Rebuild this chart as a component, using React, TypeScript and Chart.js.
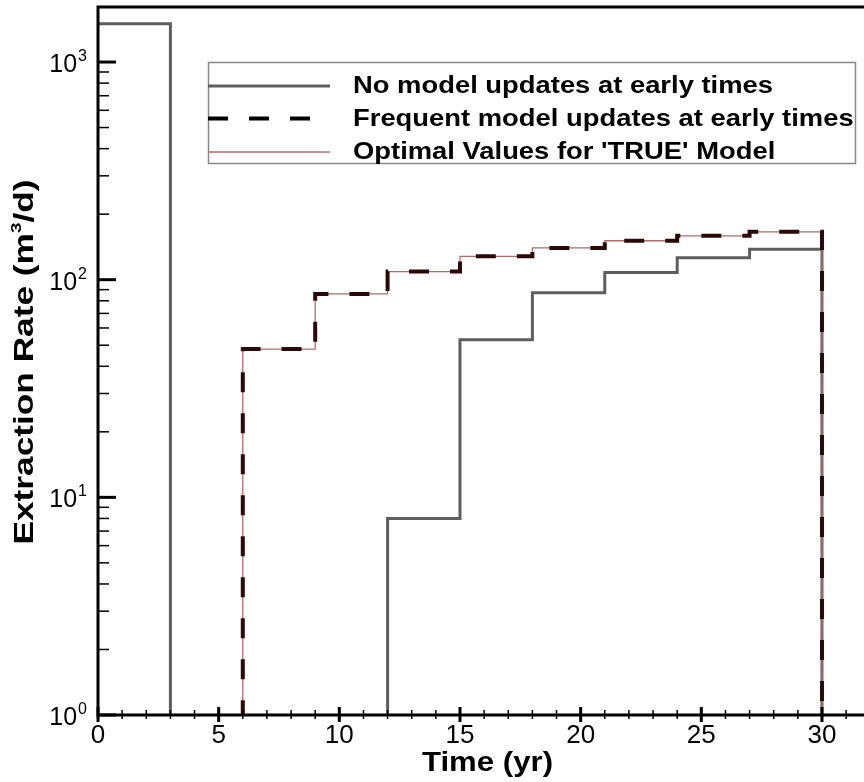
import React, { useEffect, useRef } from "react";
import { Chart, registerables } from "chart.js";

Chart.register(...registerables);

// Rates below the axis floor stand for "no extraction" and are clipped away.
const OFF = 0.5;

// No model updates at early times (step starts, yr / rate, m3/d)
const noUpdateTimes = [0, 3, 12, 15, 18, 21, 24, 27, 30];
const noUpdateRates = [1500, OFF, 8, 53, 87, 108, 126, 138, OFF];

// Frequent model updates at early times
const frequentTimes = [0, 6, 9, 12, 15, 18, 21, 24, 27, 30];
const frequentRates = [OFF, 48, 86, 109, 128, 140, 151, 159, 166, OFF];

// Optimal values for the 'TRUE' model
const optimalTimes = [0, 6, 9, 12, 15, 18, 21, 24, 27, 30];
const optimalRates = [OFF, 48, 86, 109, 128, 140, 151, 159, 166, OFF];

const xMajorTicks = [0, 5, 10, 15, 20, 25, 30];
const xMinorStep = 1;
const yDecadeExponents = [0, 1, 2, 3];

const legendLabels = [
  "No model updates at early times",
  "Frequent model updates at early times",
  "Optimal Values for 'TRUE' Model",
];

const X_MIN = 0;
const X_MAX = 31.7;
const Y_MIN = 1;
const Y_MAX = 1790;

const GRAY = "#5e5e5e";
const DASH = "#2c0909";
const RED = "#b56a6a";

const REG = '"Liberation Sans", Arial, sans-serif';

type Run = { text: string; font: string; dy?: number };

function runsWidth(ctx: CanvasRenderingContext2D, runs: Run[]) {
  let w = 0;
  for (const r of runs) {
    ctx.font = r.font;
    w += ctx.measureText(r.text).width;
  }
  return w;
}

function drawRuns(ctx: CanvasRenderingContext2D, runs: Run[], x: number, y: number) {
  let cx = x;
  for (const r of runs) {
    ctx.font = r.font;
    ctx.fillText(r.text, cx, y + (r.dy || 0));
    cx += ctx.measureText(r.text).width;
  }
}

const framePlugin = {
  id: "frameAndLabels",
  afterDatasetsDraw(chart: any) {
    const ctx: CanvasRenderingContext2D = chart.ctx;
    const area = chart.chartArea;
    const xs = chart.scales.x;
    const ys = chart.scales.y;
    ctx.save();
    ctx.fillStyle = "#000";
    ctx.strokeStyle = "#000";
    ctx.lineCap = "butt";

    // frame: top, left, bottom
    ctx.lineWidth = 3;
    ctx.beginPath();
    ctx.moveTo(area.left, area.top);
    ctx.lineTo(chart.width, area.top);
    ctx.moveTo(area.left, area.top - 1.5);
    ctx.lineTo(area.left, area.bottom + 1.5);
    ctx.moveTo(area.left - 1.5, area.bottom);
    ctx.lineTo(chart.width, area.bottom);
    ctx.stroke();

    // x ticks (crossing the axis)
    for (let t = X_MIN; t <= X_MAX; t += xMinorStep) {
      const px = xs.getPixelForValue(t);
      const major = xMajorTicks.includes(t);
      ctx.lineWidth = major ? 3 : 1.5;
      ctx.beginPath();
      if (major) {
        ctx.moveTo(px, area.bottom - 8);
        ctx.lineTo(px, area.bottom + 7);
      } else {
        ctx.moveTo(px, area.bottom - 5);
        ctx.lineTo(px, area.bottom + 4);
      }
      ctx.stroke();
    }

    // y ticks (inward)
    for (const e of yDecadeExponents) {
      for (let m = 1; m <= 9; m++) {
        const v = m * Math.pow(10, e);
        if (v < Y_MIN || v > Y_MAX) continue;
        const py = ys.getPixelForValue(v);
        ctx.lineWidth = m === 1 ? 3 : 1.5;
        ctx.beginPath();
        ctx.moveTo(area.left, py);
        ctx.lineTo(area.left + (m === 1 ? 18 : 11), py);
        ctx.stroke();
      }
    }

    // x tick labels
    ctx.textAlign = "center";
    ctx.textBaseline = "alphabetic";
    ctx.font = `26px ${REG}`;
    for (const t of xMajorTicks) {
      ctx.fillText(String(t), xs.getPixelForValue(t), area.bottom + 28);
    }

    // y tick labels: 10 with superscript exponent
    ctx.textAlign = "left";
    for (const e of yDecadeExponents) {
      const py = ys.getPixelForValue(Math.pow(10, e));
      ctx.font = `25px ${REG}`;
      const w1 = ctx.measureText("10").width;
      ctx.font = `16px ${REG}`;
      const w2 = ctx.measureText(String(e)).width;
      const x0 = area.left - 11 - w1 - w2 - 1;
      ctx.font = `25px ${REG}`;
      ctx.fillText("10", x0, py + 10);
      ctx.font = `16px ${REG}`;
      ctx.fillText(String(e), x0 + w1 + 1, py - 1);
    }

    // x axis title
    {
      const runs: Run[] = [{ text: "Time (yr)", font: `bold 28px ${REG}` }];
      const w = runsWidth(ctx, runs);
      const sx = 131 / w;
      ctx.save();
      ctx.translate(487.5, 771);
      ctx.scale(sx, 1);
      drawRuns(ctx, runs, -w / 2, 0);
      ctx.restore();
    }

    // y axis title
    {
      const runs: Run[] = [
        { text: "Extraction Rate (m", font: `bold 28px ${REG}` },
        { text: "3", font: `bold 15px ${REG}`, dy: -12 },
        { text: "/d)", font: `bold 28px ${REG}` },
      ];
      const w = runsWidth(ctx, runs);
      const sx = 365 / w;
      ctx.save();
      ctx.translate(33, 362);
      ctx.rotate(-Math.PI / 2);
      ctx.scale(sx, 1);
      drawRuns(ctx, runs, -w / 2, 0);
      ctx.restore();
    }

    // legend box
    const bx = 208, by = 62, bw = 647, bh = 101;
    ctx.fillStyle = "#fff";
    ctx.fillRect(bx, by, bw, bh);
    ctx.strokeStyle = "#888";
    ctx.lineWidth = 1.5;
    ctx.strokeRect(bx + 0.5, by + 0.5, bw, bh);

    const rowY = [86, 118.5, 152];
    const sampleEnd = 330;
    // gray solid
    ctx.strokeStyle = GRAY;
    ctx.lineWidth = 3;
    ctx.beginPath();
    ctx.moveTo(bx, rowY[0]);
    ctx.lineTo(sampleEnd, rowY[0]);
    ctx.stroke();
    // dashed
    ctx.strokeStyle = "#000";
    ctx.lineWidth = 4;
    ctx.setLineDash([20, 21]);
    ctx.beginPath();
    ctx.moveTo(bx, rowY[1]);
    ctx.lineTo(sampleEnd, rowY[1]);
    ctx.stroke();
    ctx.setLineDash([]);
    // thin red
    ctx.strokeStyle = RED;
    ctx.lineWidth = 1.3;
    ctx.beginPath();
    ctx.moveTo(bx, rowY[2]);
    ctx.lineTo(sampleEnd, rowY[2]);
    ctx.stroke();

    ctx.fillStyle = "#000";
    const lf = `bold 24px ${REG}`;
    ctx.font = lf;
    const lsx = 420 / ctx.measureText(legendLabels[0]).width;
    legendLabels.forEach((lab, i) => {
      ctx.save();
      ctx.translate(353, rowY[i] + 7);
      ctx.scale(lsx, 1);
      ctx.font = lf;
      ctx.fillText(lab, 0, 0);
      ctx.restore();
    });

    ctx.restore();
  },
};

export default function App() {
  const canvasRef = useRef<HTMLCanvasElement | null>(null);

  useEffect(() => {
    const canvas = canvasRef.current;
    if (!canvas) return;
    const toPoints = (ts: number[], vs: number[]) => ts.map((t, i) => ({ x: t, y: vs[i] }));
    const chart = new Chart(canvas, {
      type: "line",
      data: {
        datasets: [
          {
            label: legendLabels[1],
            data: toPoints(frequentTimes, frequentRates),
            borderColor: DASH,
            borderWidth: 4,
            borderDash: [20, 21],
            stepped: "before",
            pointRadius: 0,
            fill: false,
            clip: 0,
            order: 1,
          },
          {
            label: legendLabels[2],
            data: toPoints(optimalTimes, optimalRates),
            borderColor: RED,
            borderWidth: 1.3,
            stepped: "before",
            pointRadius: 0,
            fill: false,
            clip: 0,
            order: 2,
          },
          {
            label: legendLabels[0],
            data: toPoints(noUpdateTimes, noUpdateRates),
            borderColor: GRAY,
            borderWidth: 3,
            stepped: "before",
            pointRadius: 0,
            fill: false,
            clip: 0,
            order: 3,
          },
        ],
      },
      options: {
        animation: false,
        responsive: false,
        maintainAspectRatio: false,
        layout: { padding: { left: 98, top: 7, right: 1, bottom: 67 } },
        scales: {
          x: { type: "linear", min: X_MIN, max: X_MAX, display: false },
          y: { type: "logarithmic", min: Y_MIN, max: Y_MAX, display: false },
        },
        plugins: { legend: { display: false }, tooltip: { enabled: false } },
        elements: { point: { radius: 0 } },
      },
      plugins: [framePlugin],
    } as any);
    return () => chart.destroy();
  }, []);

  return (
    <div style={{ position: "absolute", left: 0, top: 0, width: 864, height: 782, background: "#fff" }}>
      <canvas ref={canvasRef} width={864} height={782} style={{ display: "block", width: 864, height: 782 }} />
    </div>
  );
}
